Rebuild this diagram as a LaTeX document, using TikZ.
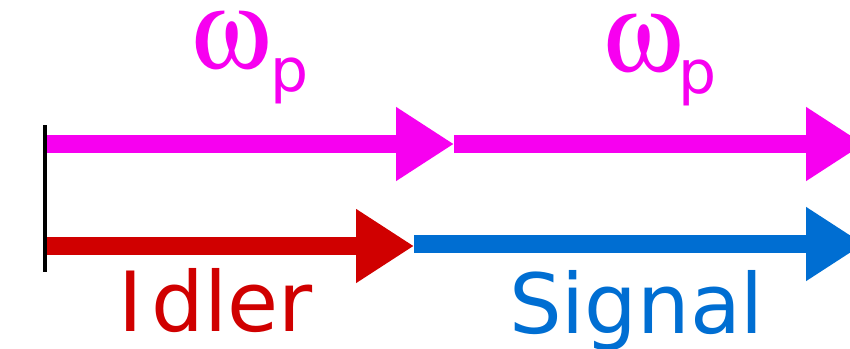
\documentclass[tikz,border=0pt]{standalone}
\usepackage{fontspec}
\usepackage[Symbol]{upgreek}
\setmainfont{DejaVu Sans}
\usetikzlibrary{arrows.meta}
\definecolor{pumpc}{HTML}{F700F0}
\definecolor{idlerc}{HTML}{D00000}
\definecolor{signalc}{HTML}{006ED2}
\tikzset{
  beam/.style={line width=18pt, -{Triangle[length=58pt,width=70pt]}},
  lbl/.style={inner sep=0pt, outer sep=0pt, anchor=base west, text height=0.5em, text depth=0.1em},
}
\begin{document}
\begin{tikzpicture}[x=1pt,y=-1pt]
\useasboundingbox (0,0) rectangle (850,348);
\clip (0,0) rectangle (850,348);
% coordinates
\coordinate (mtop) at (45,125);
\coordinate (mbot) at (45,272);
\coordinate (pa) at (46,144);
\coordinate (pb) at (454,144);
\coordinate (pc) at (864,144);
\coordinate (ia) at (46,246);
\coordinate (ib) at (414,246);
\coordinate (sa) at (414,244);
\coordinate (sb) at (864,244);
% arrows
\draw[beam, pumpc] (pa) -- (pb);
\draw[beam, pumpc] (pb) -- (pc);
\draw[beam, idlerc] (ia) -- (ib);
\draw[beam, signalc] (sa) -- (sb);
% mirror line
\draw[line width=4pt, black] (mtop) -- (mbot);
% labels
\node[lbl, text=pumpc] (w1) at (191,68) {\fontsize{112}{112}\selectfont$\upomega$};
\node[lbl, text=pumpc] (s1) at (270,91) {\fontsize{60}{60}\selectfont p};
\node[lbl, text=pumpc] (w2) at (603,71) {\fontsize{112}{112}\selectfont$\upomega$};
\node[lbl, text=pumpc] (s2) at (678,93) {\fontsize{60}{60}\selectfont p};
\node[lbl, text=idlerc, text height=0.75em, text depth=0.05em] (idl) at (118,331) {\fontsize{83}{83}\selectfont I\kern9pt dler};
\node[lbl, text=signalc, text height=0.75em, text depth=0.15em] (sig) at (509,333) {\fontsize{83}{83}\selectfont Signal};
\end{tikzpicture}
\end{document}
